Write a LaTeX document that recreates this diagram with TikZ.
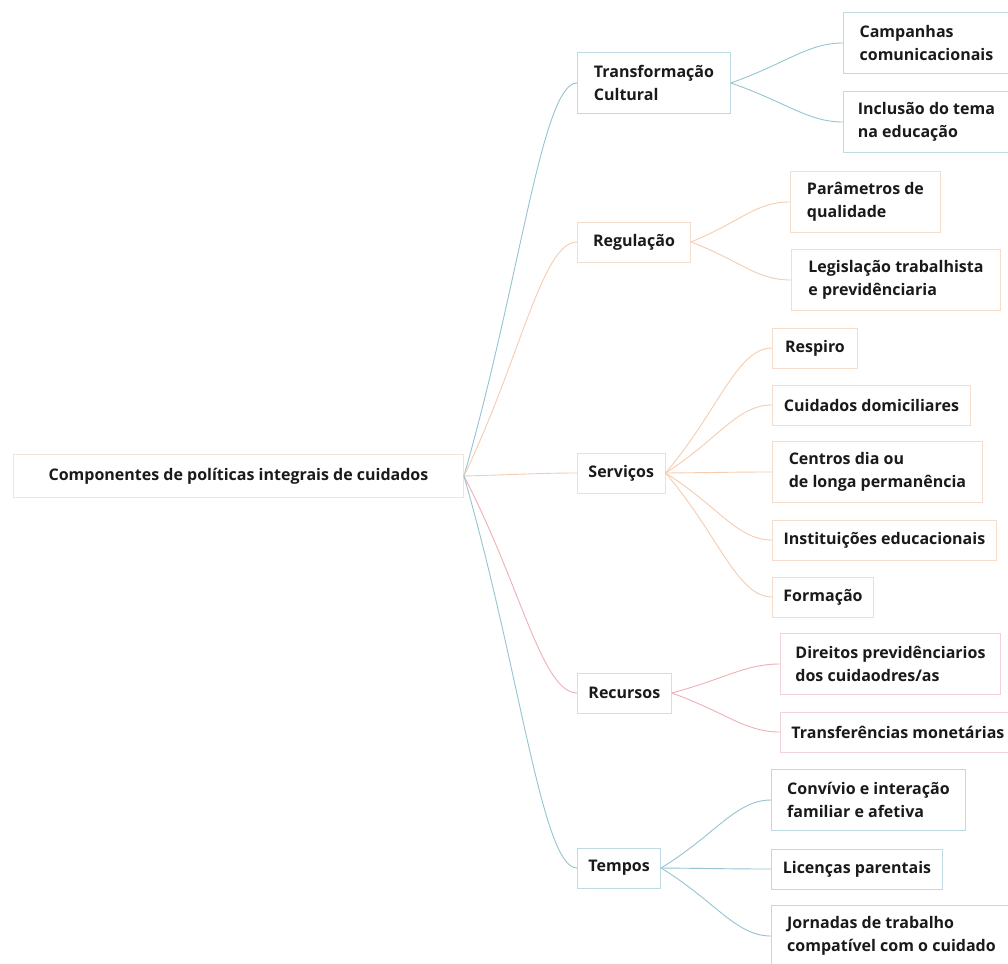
\documentclass[tikz,border=0pt]{standalone}
\usepackage{fontspec}
\setmainfont{Open Sans}
\usetikzlibrary{calc}

\definecolor{textdark}{RGB}{26,26,26}
\definecolor{bluelink}{RGB}{150,196,209}
\definecolor{blueframe}{RGB}{190,218,227}
\definecolor{orangelink}{RGB}{246,204,176}
\definecolor{orangeframe}{RGB}{244,221,204}
\definecolor{pinklink}{RGB}{238,176,182}
\definecolor{pinkframe}{RGB}{242,210,214}
\definecolor{rootframe}{RGB}{240,228,220}

\tikzset{
    box/.style={draw, line width=0.9pt, fill=white, anchor=west, align=left,
        inner xsep=11pt, inner ysep=4pt, minimum height=40pt,
        font=\fontsize{16}{23}\selectfont\bfseries, text=textdark},
    tall/.style={minimum height=61pt},
    bluebox/.style={box, draw=blueframe},
    orangebox/.style={box, draw=orangeframe},
    pinkbox/.style={box, draw=pinkframe},
    branch/.style={line width=0.9pt, to path={.. controls ($(\tikztostart)!0.5!(\tikztotarget)$)
        and ($(\tikztotarget)+(-35pt,0)$) .. (\tikztotarget)}}
}

\begin{document}
\begin{tikzpicture}[x=1pt, y=-1pt]
    \useasboundingbox[fill=white] (0,0) rectangle (1008,963);

    % centre
    \node[box, draw=rootframe, minimum width=450pt, minimum height=43pt, align=center] (root) at (13,476)
        {Componentes de políticas integrais de cuidados};

    % main topics
    \node[bluebox, tall, minimum width=153pt] (cult) at (577,83) {Transformação\\Cultural};
    \node[orangebox, minimum width=113pt] (reg) at (577,242) {Regulação};
    \node[orangebox, minimum width=83pt] (serv) at (577,473) {Serviços};
    \node[pinkbox, minimum width=90pt] (rec) at (577,693) {Recursos};
    \node[bluebox, minimum width=81pt] (temp) at (577,868) {Tempos};

    % subtopics
    \node[bluebox, tall, minimum width=166pt] (camp) at (843,43) {Campanhas\\comunicacionais};
    \node[bluebox, tall, minimum width=166pt] (incl) at (843,122) {Inclusão do tema\\na educação};

    \node[orangebox, tall, minimum width=150pt] (param) at (790,202) {Parâmetros de\\qualidade};
    \node[orangebox, tall, minimum width=209pt] (legis) at (791,280) {Legislação trabalhista\\e previdênciaria};

    \node[orangebox, minimum width=85pt] (resp) at (772,348) {Respiro};
    \node[orangebox, minimum width=198pt] (dom) at (772,405) {Cuidados domiciliares};
    \node[orangebox, tall, minimum width=210pt] (cent) at (772,472) {Centros dia ou\\de longa permanência};
    \node[orangebox, minimum width=224pt] (inst) at (772,540) {Instituições educacionais};
    \node[orangebox, minimum width=94pt] (form) at (772,597) {Formação};

    \node[pinkbox, tall, minimum width=220pt] (dir) at (780,664) {Direitos previdênciarios\\dos cuidaodres/as};
    \node[pinkbox, minimum width=230pt] (transf) at (780,732) {Transferências monetárias};

    \node[bluebox, tall, minimum width=194pt] (conv) at (771,800) {Convívio e interação\\familiar e afetiva};
    \node[bluebox, minimum width=171pt] (lic) at (771,869) {Licenças parentais};
    \node[bluebox, tall, minimum width=240pt] (jorn) at (771,936) {Jornadas de trabalho\\compatível com o cuidado};

    \path
    (root.east) edge[branch, draw=bluelink] (cult.west)
    (root.east) edge[branch, draw=orangelink] (reg.west)
    (root.east) edge[branch, draw=orangelink] (serv.west)
    (root.east) edge[branch, draw=pinklink] (rec.west)
    (root.east) edge[branch, draw=bluelink] (temp.west)

    (cult.east) edge[branch, draw=bluelink] (camp.west)
    (cult.east) edge[branch, draw=bluelink] (incl.west)

    (reg.east) edge[branch, draw=orangelink] (param.west)
    (reg.east) edge[branch, draw=orangelink] (legis.west)

    (serv.east) edge[branch, draw=orangelink] (resp.west)
    (serv.east) edge[branch, draw=orangelink] (dom.west)
    (serv.east) edge[branch, draw=orangelink] (cent.west)
    (serv.east) edge[branch, draw=orangelink] (inst.west)
    (serv.east) edge[branch, draw=orangelink] (form.west)

    (rec.east) edge[branch, draw=pinklink] (dir.west)
    (rec.east) edge[branch, draw=pinklink] (transf.west)

    (temp.east) edge[branch, draw=bluelink] (conv.west)
    (temp.east) edge[branch, draw=bluelink] (lic.west)
    (temp.east) edge[branch, draw=bluelink] (jorn.west);

\end{tikzpicture}
\end{document}
